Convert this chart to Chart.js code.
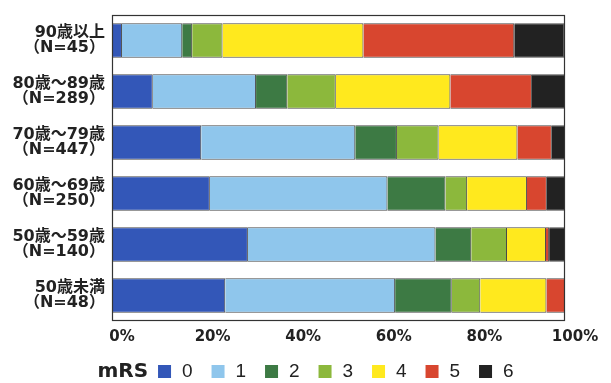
<!DOCTYPE html>
<html lang="ja">
<head>
<meta charset="UTF-8">
<title>mRS</title>
<script src="https://cdn.jsdelivr.net/npm/chart.js@4/dist/chart.umd.min.js"></script>
<style>
  html, body { margin: 0; padding: 0; background: #ffffff; }
  #wrap { width: 611px; height: 383px; position: relative; }
</style>
</head>
<body>
<div id="wrap"><canvas id="myChart"></canvas></div>
<script>
// DATOS DE LA GRAFICA (PORCENTAJES POR GRUPO DE EDAD)
const ageGroups = ["90歳以上", "80歳～89歳", "70歳～79歳", "60歳～69歳", "50歳～59歳", "50歳未満"];
const sampleSizes = [45, 289, 447, 250, 140, 48];
const mrsScores = ["0", "1", "2", "3", "4", "5", "6"];
const mrs0 = [2.2, 9.0, 19.7, 21.6, 30.0, 25.0];
const mrs1 = [13.3, 22.8, 34.0, 39.2, 41.4, 37.5];
const mrs2 = [2.2, 6.9, 9.2, 12.8, 7.9, 12.5];
const mrs3 = [6.7, 10.7, 9.2, 4.8, 7.9, 6.3];
const mrs4 = [31.1, 25.3, 17.4, 13.2, 8.6, 14.6];
const mrs5 = [33.3, 18.0, 7.6, 4.4, 0.7, 4.2];
const mrs6 = [11.1, 7.3, 2.9, 4.0, 3.6, 0];
const xTicks = [0, 20, 40, 60, 80, 100];

const colors = ["#3357b8", "#8fc6ec", "#3d7a44", "#8cb83c", "#ffe91e", "#d8462f", "#222222"];

document.addEventListener("DOMContentLoaded", () => {
  const series = [mrs0, mrs1, mrs2, mrs3, mrs4, mrs5, mrs6];

  // MARCO NEGRO ALREDEDOR DEL AREA DEL GRAFICO
  const frame = {
    id: "frame",
    afterDatasetsDraw(chart) {
      const { ctx, chartArea: a } = chart;
      ctx.save();
      ctx.strokeStyle = "#333333";
      ctx.lineWidth = 1.2;
      ctx.strokeRect(a.left + 0.5, a.top + 0.5, a.right - a.left - 1, a.bottom - a.top - 1);
      ctx.restore();
    }
  };

  // LEYENDA EN UNA LINEA CON EL TITULO "mRS" DELANTE
  const mrsLegend = {
    id: "mrsLegend",
    afterDraw(chart) {
      const ctx = chart.ctx;
      const y = 371;
      const step = 53.5;
      ctx.save();
      ctx.textBaseline = "middle";
      ctx.font = "bold 20px 'DejaVu Sans'";
      const titleW = ctx.measureText("mRS").width;
      ctx.font = "19px 'Liberation Sans'";
      const lastW = ctx.measureText(mrsScores[mrsScores.length - 1]).width;
      const total = titleW + 10 + step * (mrsScores.length - 1) + 13 + 11 + lastW;
      let x = (chart.width - total) / 2;
      ctx.fillStyle = "#222222";
      ctx.font = "bold 20px 'DejaVu Sans'";
      ctx.fillText("mRS", x, y + 1);
      x += titleW + 10;
      ctx.font = "19px 'Liberation Sans'";
      chart.data.datasets.forEach((ds, i) => {
        const bx = x + i * step;
        ctx.fillStyle = ds.backgroundColor;
        ctx.fillRect(bx, y - 6, 13, 13);
        ctx.fillStyle = "#222222";
        ctx.fillText(ds.label, bx + 24, y + 1);
      });
      ctx.restore();
    }
  };

  const ctx = document.getElementById("myChart");
  const myChart = new Chart(ctx, {
    type: "bar",
    data: {
      labels: ageGroups.map((g, i) => [g, "（N=" + sampleSizes[i] + "）"]),
      datasets: mrsScores.map((s, i) => ({
        label: s,
        data: series[i],
        backgroundColor: colors[i],
        borderColor: "rgba(40,40,40,0.85)",
        borderWidth: 1,
        categoryPercentage: 1,
        barPercentage: 0.68,
      })),
    },
    options: {
      indexAxis: "y",
      responsive: true,
      maintainAspectRatio: false,
      animation: false,
      layout: { padding: { top: 15, right: 46, bottom: 30, left: 0 } },
      plugins: {
        legend: { display: false },
        tooltip: { enabled: false },
      },
      scales: {
        x: {
          stacked: true,
          min: 0,
          max: 100,
          afterBuildTicks: (scale) => { scale.ticks = xTicks.map(v => ({ value: v })); },
          grid: { display: false, drawTicks: false },
          border: { display: false },
          ticks: {
            padding: 7,
            labelOffset: 10,
            color: "#222222",
            font: { family: "'DejaVu Sans'", size: 15, weight: "bold" },
            callback: (v) => v + "%",
          },
        },
        y: {
          stacked: true,
          afterFit: (scale) => {
            scale.width = 112;
            scale.paddingTop = 0;
            scale.paddingBottom = 0;
          },
          grid: { display: false, drawTicks: false },
          border: { display: false },
          ticks: {
            padding: 7,
            color: "#222222",
            font: { family: "'DejaVu Sans', 'Noto Sans CJK JP'", size: 16, weight: "bold", lineHeight: 0.95 },
          },
        },
      },
    },
    plugins: [frame, mrsLegend],
  });
});
</script>
</body>
</html>
